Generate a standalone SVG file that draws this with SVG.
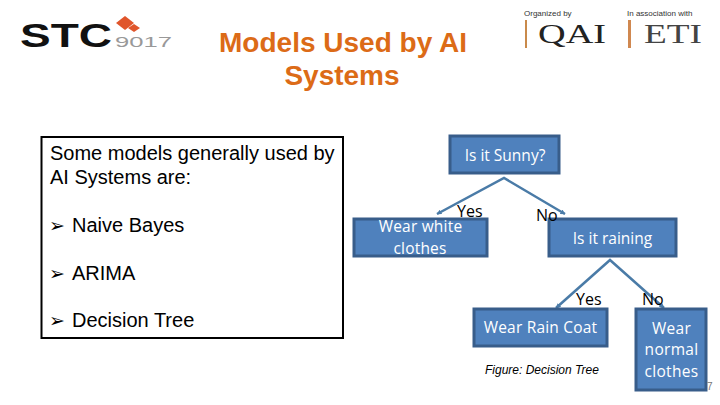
<svg xmlns="http://www.w3.org/2000/svg" width="720" height="405" viewBox="0 0 720 405">
<defs>
<marker id="tip" markerWidth="5" markerHeight="5" refX="4.500" refY="2.500" orient="auto-start-reverse" markerUnits="userSpaceOnUse">
<path d="M0,0 L5,2.500 L0,5 Z" fill="#4a7ba7"/>
</marker>
</defs>
<style>
text{font-family:"Liberation Sans",Arial,sans-serif}
.n{fill:#4f81bd;stroke:#385d8a;stroke-width:3}
.w{font-family:"Open Sans","Noto Sans",sans-serif;font-size:15.500px;fill:#fff;text-anchor:middle}
.l{font-family:"Open Sans","Noto Sans",sans-serif;font-size:16px;fill:#000}
.b{font-size:20px;fill:#000}
.m{font-family:"DejaVu Sans",sans-serif;font-size:19px;fill:#000}
.c{fill:none;stroke:#4a7ba7;stroke-width:2.500;marker-end:url(#tip);marker-start:url(#tip)}
.t{font-size:28px;font-weight:bold;fill:#dc6b17;text-anchor:middle}
.s{font-family:"Liberation Serif",serif}
</style>
<rect width="720" height="405" fill="#fff"/>
<g id="logo-stc">
<text x="20" y="47" font-size="33" font-weight="bold" fill="#111" textLength="92" lengthAdjust="spacingAndGlyphs">STC</text>
<polygon points="125,16 134,23 125,30 116,23" fill="#e0552b"/>
<polygon points="134,24 140,28 134,32 128,28" fill="#e0552b"/>
<text x="115" y="47" font-size="15" fill="#999" textLength="57" lengthAdjust="spacingAndGlyphs">9017</text>
</g>
<g id="logo-partners">
<text x="524" y="16" font-size="8" fill="#333">Organized by</text>
<text x="627" y="16" font-size="8" fill="#333">In association with</text>
<rect x="525" y="20" width="2" height="28" fill="#c98a4b"/>
<rect x="628" y="20" width="3" height="28" fill="#d08850"/>
<text class="s" x="538" y="43" font-size="28" fill="#222" textLength="68" lengthAdjust="spacingAndGlyphs">QAI</text>
<text class="s" x="644" y="43" font-size="28" fill="#444" textLength="58" lengthAdjust="spacingAndGlyphs">ETI</text>
</g>
<g id="title">
<text class="t" x="343" y="52">Models Used by AI</text>
<text class="t" x="342" y="85">Systems</text>
</g>
<g id="list">
<rect x="41.500" y="137" width="301.500" height="201" fill="#fff" stroke="#000" stroke-width="2"/>
<text class="b" x="50" y="160">Some models generally used by</text>
<text class="b" x="50" y="184">AI Systems are:</text>
<text class="m" x="49" y="232">➢</text><text class="b" x="72" y="232">Naive Bayes</text>
<text class="m" x="49" y="280">➢</text><text class="b" x="72" y="280">ARIMA</text>
<text class="m" x="49" y="327">➢</text><text class="b" x="72" y="327">Decision Tree</text>
</g>
<g id="connectors">
<polyline class="c" points="437,214 504,178 565,214"/>
<polyline class="c" points="556,308 610,260 664,308"/>
</g>
<g id="node-sunny">
<rect class="n" x="450" y="136" width="109" height="37"/>
<text class="w" x="505" y="161">Is it Sunny?</text>
</g>
<g id="node-white">
<rect class="n" x="354" y="219" width="133" height="37"/>
<text class="w" x="420.500" y="232" letter-spacing="0.200">Wear white</text>
<text class="w" x="420" y="254" letter-spacing="0.200">clothes</text>
</g>
<g id="node-raining">
<rect class="n" x="549" y="219" width="127" height="37"/>
<text class="w" x="612.500" y="244">Is it raining</text>
</g>
<g id="node-coat">
<rect class="n" x="474" y="309" width="133" height="37"/>
<text class="w" x="540.500" y="333" letter-spacing="0.200">Wear Rain Coat</text>
</g>
<g id="node-normal">
<rect class="n" x="636" y="309" width="70" height="81"/>
<text class="w" x="671.500" y="334" letter-spacing="0.300">Wear</text>
<text class="w" x="671.500" y="355" letter-spacing="0.300">normal</text>
<text class="w" x="671.500" y="377" letter-spacing="0.300">clothes</text>
</g>
<g id="labels">
<text class="l" x="457" y="217">Yes</text>
<text class="l" x="536" y="221">No</text>
<text class="l" x="576" y="305">Yes</text>
<text class="l" x="642" y="305">No</text>
<text x="485" y="374" font-size="12" font-style="italic" fill="#000">Figure: Decision Tree</text>
<text x="707" y="390" font-size="10" fill="#777">7</text>
</g>
</svg>
